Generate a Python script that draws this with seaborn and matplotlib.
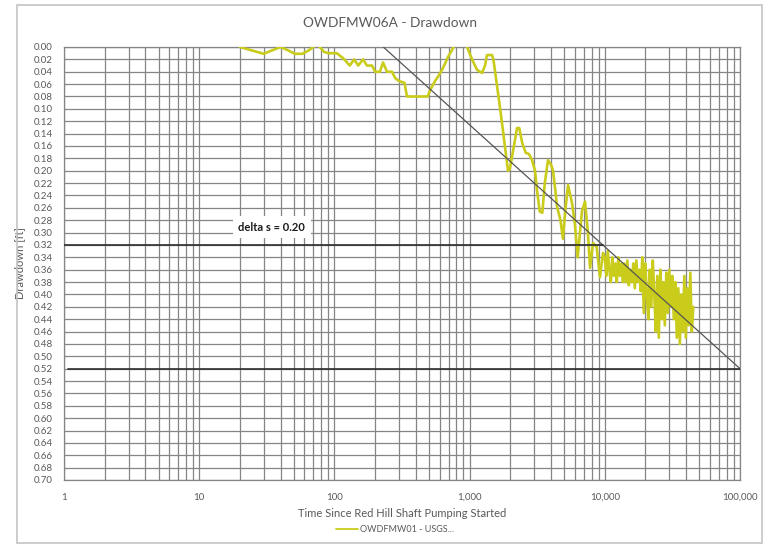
import matplotlib
matplotlib.use("Agg")
import matplotlib.pyplot as plt
from matplotlib.patches import Rectangle
from matplotlib.ticker import FixedLocator, FixedFormatter, LogLocator, NullFormatter
import seaborn as sns
import pandas as pd

# Drawdown record, OWDFMW01 (time in minutes, drawdown in ft)
early_time = [20, 25, 30, 35, 40, 45, 51, 58, 64, 70, 74, 78, 84, 90, 104, 116,
              130, 140, 150, 163, 174, 190, 200, 217, 229, 245, 267, 281, 300,
              330, 344, 380, 490, 510, 555, 584, 625, 658, 692, 741, 800, 880,
              957, 1042, 1135, 1236, 1300, 1345, 1465, 1500, 1600, 1700, 1800,
              1923, 1980, 2059, 2243, 2330, 2450, 2600, 2750, 2897, 3048, 3150,
              3300, 3450, 3600, 3800, 4000, 4140, 4300, 4430, 4700, 4900, 5100,
              5350, 5719, 6000, 6300, 6780, 7140, 7500, 7777, 8185, 8700, 9210,
              9700]
early_drawdown = [0.000, 0.006, 0.011, 0.005, 0.000, 0.005, 0.011, 0.011, 0.006,
                  0.000, -0.006, 0.000, 0.008, 0.010, 0.010, 0.018, 0.030, 0.020,
                  0.030, 0.020, 0.030, 0.030, 0.040, 0.040, 0.025, 0.040, 0.040,
                  0.050, 0.055, 0.058, 0.080, 0.080, 0.080, 0.070, 0.055, 0.048,
                  0.037, 0.027, 0.016, 0.005, -0.010, -0.020, 0.000, 0.020, 0.037,
                  0.042, 0.030, 0.013, 0.013, 0.020, 0.065, 0.107, 0.150, 0.200,
                  0.198, 0.178, 0.131, 0.131, 0.155, 0.171, 0.173, 0.183, 0.200,
                  0.231, 0.266, 0.268, 0.220, 0.183, 0.190, 0.200, 0.230, 0.258,
                  0.280, 0.310, 0.265, 0.223, 0.252, 0.285, 0.340, 0.265, 0.250,
                  0.300, 0.357, 0.317, 0.323, 0.372, 0.333]

late_time = [10000, 10260, 10520, 10800, 11080, 11360, 11660, 11960, 12270, 12590,
             12910, 13250, 13590, 13940, 14300, 14670, 15050, 15440, 15840, 16250,
             16670, 17100, 17540, 18000, 18460, 18940, 19430, 19930, 20450, 20980,
             21520, 22080, 22650, 23240, 23840, 24450, 25090, 25740, 26400, 27090,
             27790, 28510, 29240, 30000, 30780, 31570, 32390, 33230, 34090, 34970,
             35880, 36810, 37760, 38740, 39740, 40770, 41830, 42910, 44020, 45160]
late_drawdown = [0.34, 0.37, 0.33, 0.36, 0.38, 0.34,
                 0.37, 0.35, 0.38, 0.34, 0.37, 0.35, 0.38,
                 0.35, 0.38, 0.345, 0.385, 0.36, 0.38,
                 0.35, 0.39, 0.345, 0.38, 0.36,
                 0.395, 0.34, 0.43, 0.35, 0.40,
                 0.44, 0.36, 0.42, 0.345, 0.40,
                 0.46, 0.37, 0.47, 0.36, 0.44, 0.38,
                 0.45, 0.365, 0.43, 0.36,
                 0.42, 0.37, 0.44, 0.38,
                 0.47, 0.39, 0.48, 0.40, 0.46,
                 0.37, 0.47, 0.39, 0.45, 0.365, 0.46, 0.42]

series_name = "OWDFMW01 - USGS..."

# Straight-line fit on the semi-log plot and the delta-s construction lines
fit_time = [230, 100000]
fit_drawdown = [0.00, 0.52]
delta_levels = [0.32, 0.52]
delta_start = [1.0, 1.07]
delta_end = [9700, 100000]
delta_label = "delta s = 0.20"
delta_label_pos = (34.5, 0.291)

x_ticks = [1, 10, 100, 1000, 10000, 100000]
x_tick_labels = ["1", "10", "100", "1,000", "10,000", "100,000"]
y_ticks = [round(0.02 * i, 2) for i in range(36)]
y_tick_labels = [f"{v:.2f}" for v in y_ticks]

title = "OWDFMW06A - Drawdown"
x_title = "Time Since Red Hill Shaft Pumping Started"
y_title = "Drawdown [ft]"

df = pd.DataFrame({
    "time": early_time + late_time,
    "drawdown": early_drawdown + late_drawdown,
    "series": series_name,
})

sns.set_theme(style="white")
plt.rcParams["font.family"] = ["Lato", "DejaVu Sans"]

text_gray = "#595959"
grid_gray = "#858585"
curve_color = "#C9CC1A"

fig = plt.figure(figsize=(7.84, 5.51), dpi=100)
ax = fig.add_axes([64 / 784, 1 - 480 / 551, (740 - 64) / 784, (480 - 47) / 551])

sns.lineplot(data=df, x="time", y="drawdown", hue="series", palette=[curve_color],
             estimator=None, sort=False, linewidth=1.9, ax=ax, zorder=3)

ax.set_xscale("log")
ax.set_xlim(1, 100000)
ax.set_ylim(0.70, 0.00)

ax.xaxis.set_major_locator(FixedLocator(x_ticks))
ax.xaxis.set_major_formatter(FixedFormatter(x_tick_labels))
ax.xaxis.set_minor_locator(LogLocator(base=10, subs=range(2, 10)))
ax.xaxis.set_minor_formatter(NullFormatter())
ax.yaxis.set_major_locator(FixedLocator(y_ticks))
ax.yaxis.set_major_formatter(FixedFormatter(y_tick_labels))

ax.grid(True, which="major", axis="both", color=grid_gray, linewidth=0.9)
ax.grid(True, which="minor", axis="x", color=grid_gray, linewidth=0.9)
ax.set_axisbelow(True)
for sp in ax.spines.values():
    sp.set_color(grid_gray)
    sp.set_linewidth(0.9)

ax.tick_params(axis="both", which="both", length=0, colors=text_gray, labelsize=7)
ax.tick_params(axis="x", pad=9)
ax.tick_params(axis="y", pad=8)

# Fit line and delta-s lines
ax.plot(fit_time, fit_drawdown, color="#555555", linewidth=0.9, zorder=4)
for lvl, x0, x1 in zip(delta_levels, delta_start, delta_end):
    ax.plot([x0, x1], [lvl, lvl], color="#2e2e2e", linewidth=1.2, zorder=4)

ax.text(delta_label_pos[0], delta_label_pos[1], delta_label, fontsize=8,
        fontweight="bold", color="#1a1a1a", ha="center", va="center", zorder=5,
        bbox=dict(boxstyle="square,pad=0.5", facecolor="white", edgecolor="none"))

ax.set_xlabel(x_title, fontsize=8, color=text_gray, labelpad=5)
ax.set_ylabel(y_title, fontsize=8, color=text_gray, labelpad=6)

leg = ax.legend(loc="upper center", bbox_to_anchor=(0.49, -0.085), frameon=False,
                fontsize=6.5, handlelength=2.4, handletextpad=0.3)
for txt in leg.get_texts():
    txt.set_color(text_gray)
for handle in leg.get_lines():
    handle.set_linewidth(1.3)

fig.text(390 / 784, 1 - 23 / 551, title, ha="center", va="center",
         fontsize=9.8, color=text_gray)

fig.patches.append(Rectangle((17 / 784, 1 - 543 / 551), (762 - 17) / 784,
                             (543 - 5) / 551, transform=fig.transFigure,
                             fill=False, edgecolor="#c4c4c4", linewidth=1.2))

fig.savefig("out.png", dpi=100, facecolor="white")
